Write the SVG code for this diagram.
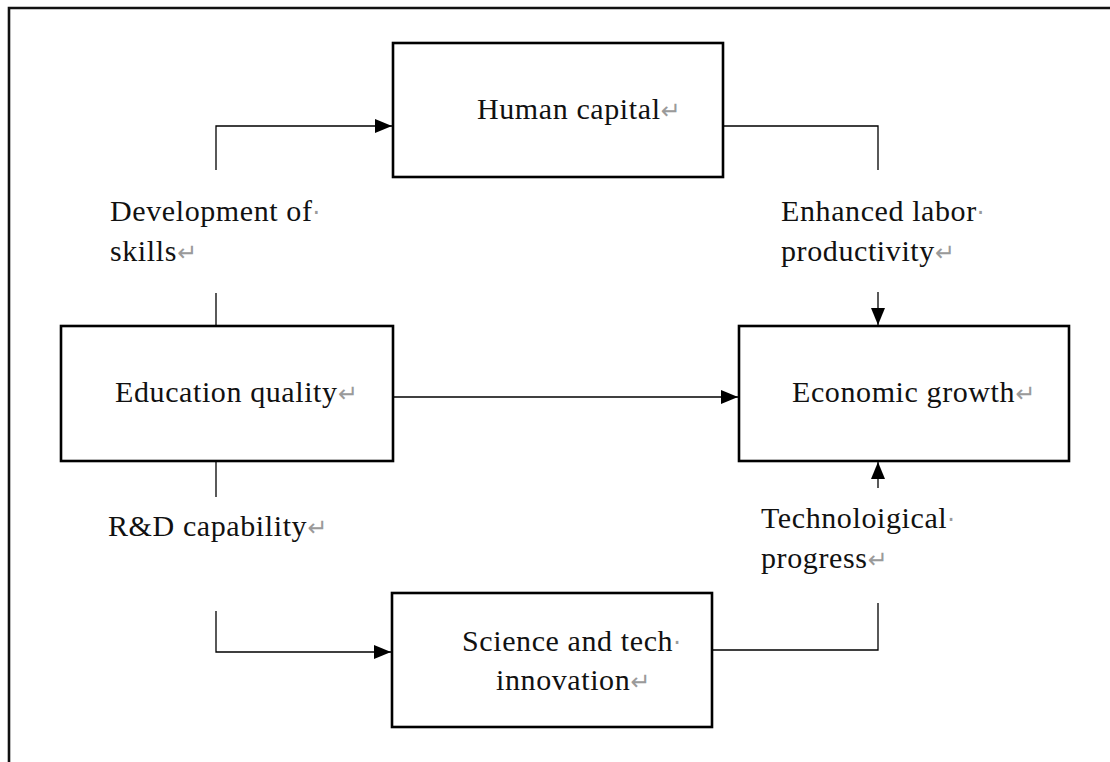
<svg xmlns="http://www.w3.org/2000/svg" width="1110" height="762" viewBox="0 0 1110 762">
<defs>
<style>
.frame{fill:none;stroke:#111;stroke-width:2.6}
.box{fill:#fff;stroke:#000;stroke-width:2.6}
.ln{fill:none;stroke:#000;stroke-width:1.3}
.t{font-family:"Liberation Serif","Times New Roman",serif;font-size:30px;fill:#111;letter-spacing:0.6px}
.m{fill:#9a9a9a;font-family:"DejaVu Sans",sans-serif;font-size:24px;letter-spacing:0}
</style>
<marker id="ah" markerWidth="18" markerHeight="14" refX="17" refY="7" orient="auto" markerUnits="userSpaceOnUse">
<path d="M0,0 L17,7 L0,14 Z" fill="#000"/>
</marker>
</defs>
<rect width="1110" height="762" fill="#fff"/>
<path class="frame" d="M9,780 L9,8 L1130,8"/>
<g id="connectors">
<path class="ln" d="M216,170 L216,126 L392,126" marker-end="url(#ah)"/>
<path class="ln" d="M216,293 L216,326"/>
<path class="ln" d="M723,126 L878,126 L878,170"/>
<path class="ln" d="M878,292 L878,325" marker-end="url(#ah)"/>
<path class="ln" d="M393,397 L738,397" marker-end="url(#ah)"/>
<path class="ln" d="M216,461 L216,497"/>
<path class="ln" d="M216,611 L216,652 L391,652" marker-end="url(#ah)"/>
<path class="ln" d="M712,650 L878,650 L878,603"/>
<path class="ln" d="M878,488 L878,462" marker-end="url(#ah)"/>
</g>
<g id="labels">
<text class="t" x="110" y="221">Development of<tspan class="m">·</tspan></text>
<text class="t" x="110" y="261">skills<tspan class="m">↵</tspan></text>
<text class="t" x="781" y="221">Enhanced labor<tspan class="m">·</tspan></text>
<text class="t" x="781" y="261">productivity<tspan class="m">↵</tspan></text>
<text class="t" x="108" y="536">R&amp;D capability<tspan class="m">↵</tspan></text>
<text class="t" x="761" y="528">Technoloigical<tspan class="m">·</tspan></text>
<text class="t" x="761" y="568">progress<tspan class="m">↵</tspan></text>
</g>
<g id="human-capital">
<rect class="box" x="393" y="43" width="330" height="134"/>
<text class="t" x="477" y="119">Human capital<tspan class="m">↵</tspan></text>
</g>
<g id="education-quality">
<rect class="box" x="61" y="326" width="332" height="135"/>
<text class="t" x="115" y="402">Education quality<tspan class="m">↵</tspan></text>
</g>
<g id="economic-growth">
<rect class="box" x="739" y="326" width="330" height="135"/>
<text class="t" x="792" y="402">Economic growth<tspan class="m">↵</tspan></text>
</g>
<g id="science-tech">
<rect class="box" x="392" y="593" width="320" height="134"/>
<text class="t" x="462" y="651">Science and tech<tspan class="m">·</tspan></text>
<text class="t" x="496" y="690">innovation<tspan class="m">↵</tspan></text>
</g>
</svg>
